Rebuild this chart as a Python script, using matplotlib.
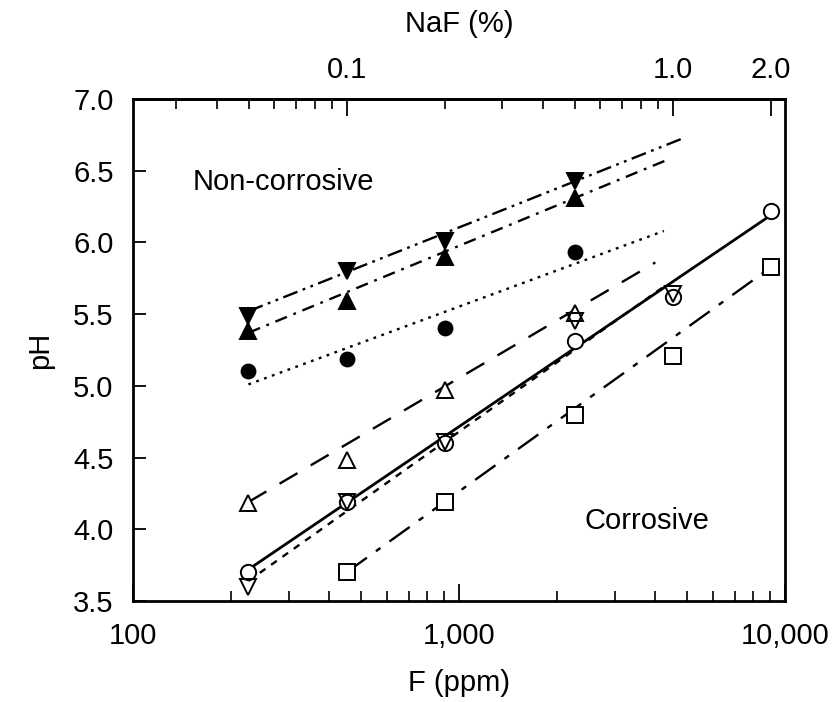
import numpy as np
import matplotlib
matplotlib.use("Agg")
from matplotlib import pyplot as plt
from matplotlib.ticker import FixedLocator, NullFormatter

plt.rcParams['font.family'] = ['Liberation Sans', 'DejaVu Sans']
plt.rcParams['lines.scale_dashes'] = False

# fluoride concentration of the test solutions (ppm F)
f_ppm = [226, 452, 905, 2262, 4524, 9048]

# measured pH per series
ph_down_filled = [5.49, 5.80, 6.01, 6.43]
ph_up_filled = [5.38, 5.59, 5.90, 6.31]
ph_circle_filled = [5.10, 5.19, 5.40, 5.93]
ph_up_open = [4.18, 4.48, 4.97, 5.51]
ph_circle_open = [3.70, 4.19, 4.60, 5.31, 5.62, 6.22]
ph_down_open = [3.60, 4.19, 4.61, 5.45, 5.64]
ph_square_open = [3.70, 4.19, 4.80, 5.21, 5.83]

# fitted boundary lines: (x start, x end), (pH start, pH end)
fit_down_filled = ([226, 4790], [5.52, 6.72])
fit_up_filled = ([226, 4400], [5.37, 6.58])
fit_circle_filled = ([226, 4250], [5.01, 6.08])
fit_up_open = ([226, 4000], [4.19, 5.86])
fit_circle_open = ([226, 9048], [3.72, 6.19])
fit_down_open = ([226, 4300], [3.64, 5.70])
fit_square_open = ([452, 8600], [3.70, 5.79])

yticks = [3.5, 4.0, 4.5, 5.0, 5.5, 6.0, 6.5, 7.0]
naf_major = [0.1, 1.0, 2.0]
naf_minor = [0.03, 0.04, 0.05, 0.06, 0.07, 0.08, 0.09,
             0.2, 0.3, 0.4, 0.5, 0.6, 0.7, 0.8, 0.9]
F_PER_NAF = 4524.0  # ppm F in 1 % NaF
FS = 21

fig = plt.figure(figsize=(8.39, 7.02), dpi=100)
ax = fig.add_axes([0.1585, 0.1439, 0.7772, 0.7151])
ax.set_xscale('log')
ax.set_xlim(100, 10000)
ax.set_ylim(3.5, 7.0)

lw = 1.7
# lines first, markers on top
ax.plot(*fit_down_filled, color='k', lw=lw, ls=(0, (11, 4, 2, 4, 2, 4)))
ax.plot(*fit_up_filled, color='k', lw=lw, ls=(0, (9, 5, 2, 5)))
ax.plot(*fit_circle_filled, color='k', lw=lw, ls=(0, (2, 4)))
ax.plot(*fit_up_open, color='k', lw=lw, ls=(0, (15, 11)))
ax.plot(*fit_circle_open, color='k', lw=2.0, ls='-')
ax.plot(*fit_down_open, color='k', lw=lw, ls=(0, (5, 5)))
ax.plot(*fit_square_open, color='k', lw=lw, ls=(0, (18, 8, 4, 8)))

mk = dict(ls='none', markeredgecolor='k', markeredgewidth=1.4, zorder=5)
ax.plot(f_ppm[:4], ph_down_filled, marker='v', ms=11, markerfacecolor='k', **mk)
ax.plot(f_ppm[:4], ph_up_filled, marker='^', ms=11, markerfacecolor='k', **mk)
ax.plot(f_ppm[:4], ph_circle_filled, marker='o', ms=10, markerfacecolor='k', **mk)
ax.plot(f_ppm[:4], ph_up_open, marker='^', ms=11, markerfacecolor='white', **mk)
ax.plot(f_ppm, ph_circle_open, marker='o', ms=11, markerfacecolor='white', **mk)
ax.plot(f_ppm[:5], ph_down_open, marker='v', ms=11, markerfacecolor='none', **mk)
ax.plot(f_ppm[1:], ph_square_open, marker='s', ms=12, markerfacecolor='white', **mk)

# bottom axis
ax.set_xticks([100, 1000, 10000])
ax.set_xticklabels(['100', '1,000', '10,000'])
ax.set_yticks(yticks)
ax.set_yticklabels([f'{v:.1f}' for v in yticks])
ax.tick_params(axis='x', which='major', direction='in', length=12, width=1.3,
               labelsize=FS, pad=15, top=False)
ax.tick_params(axis='x', which='minor', direction='in', length=7, width=1.2, top=False)
ax.tick_params(axis='y', which='major', direction='in', length=9, width=1.3,
               labelsize=FS, pad=14, right=False)
ax.tick_params(axis='y', which='minor', left=False, right=False)
ax.xaxis.set_minor_formatter(NullFormatter())

# top axis in NaF %
sec = ax.secondary_xaxis('top', functions=(lambda x: x / F_PER_NAF,
                                           lambda p: p * F_PER_NAF))
sec.xaxis.set_major_locator(FixedLocator(naf_major))
sec.xaxis.set_minor_locator(FixedLocator(naf_minor))
sec.set_xticklabels(['0.1', '1.0', '2.0'])
sec.xaxis.set_minor_formatter(NullFormatter())
sec.tick_params(which='major', direction='in', length=12, width=1.3, labelsize=FS, pad=11)
sec.tick_params(which='minor', direction='in', length=7, width=1.2)
sec.set_xlabel('NaF (%)', fontsize=FS, labelpad=17)
sec.spines['top'].set_linewidth(2.0)

for s in ax.spines.values():
    s.set_linewidth(2.0)

ax.set_xlabel('F (ppm)', fontsize=FS, labelpad=14)
ax.set_ylabel('pH', fontsize=FS, labelpad=14)

ax.text(290, 6.42, 'Non-corrosive', fontsize=FS, ha='center', va='center')
ax.text(3770, 4.06, 'Corrosive', fontsize=FS, ha='center', va='center')

fig.savefig('out.png', dpi=100)
